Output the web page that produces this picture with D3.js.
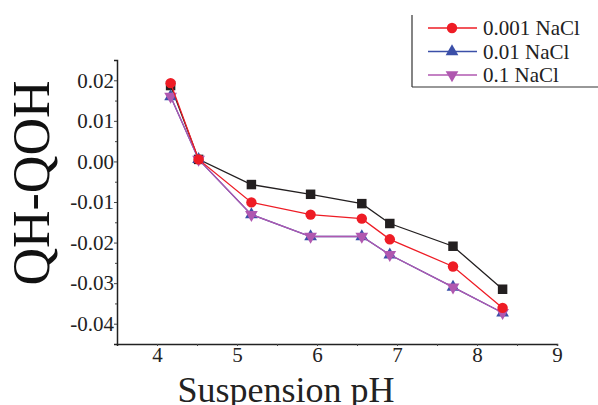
<!DOCTYPE html>
<html><head><meta charset="utf-8">
<script src="https://cdn.jsdelivr.net/npm/d3@7"></script>
<style>body{margin:0;background:#fff;} svg{display:block;} text{font-family:"Liberation Serif","Times New Roman",Times,serif;}</style>
</head><body>
<svg id="c" width="598" height="405"></svg>
<script>
const phValues = [4.17, 4.52, 5.18, 5.92, 6.56, 6.91, 7.70, 8.32];
const seriesBlack = [0.0187, 0.0005, -0.0057, -0.0081, -0.0104, -0.0153, -0.0209, -0.0315];
const seriesRed = [0.0193, 0.0005, -0.0101, -0.0131, -0.0141, -0.0192, -0.0259, -0.0361];
const seriesBlue = [0.0160, 0.0005, -0.0131, -0.0185, -0.0185, -0.0230, -0.0310, -0.0373];
const seriesPurple = [0.0160, 0.0005, -0.0131, -0.0185, -0.0185, -0.0230, -0.0310, -0.0373];
const xTicks = [4, 5, 6, 7, 8, 9];
const yTicks = [0.02, 0.01, 0.00, -0.01, -0.02, -0.03, -0.04];
const yTickLabels = ["0.02", "0.01", "0.00", "-0.01", "-0.02", "-0.03", "-0.04"];
const legendLabels = ["0.001 NaCl", "0.01 NaCl", "0.1 NaCl"];

const svg = d3.select("#c");
const x = d3.scaleLinear().domain([3.5, 9]).range([117, 557]);
const y = d3.scaleLinear().domain([-0.045, 0.025]).range([344, 60]);

// axes
const xAxis = d3.axisBottom(x).tickValues(xTicks).tickFormat(d3.format("d")).tickSize(2).tickPadding(1);
const xMinor = d3.axisBottom(x).tickValues([4.5,5.5,6.5,7.5,8.5]).tickFormat("").tickSize(2);
const gx = svg.append("g").attr("transform", "translate(0,344)").call(xAxis);
svg.append("g").attr("transform", "translate(0,344)").call(xMinor).select(".domain").remove();
gx.selectAll("text").attr("font-family", null).attr("font-size", 21).attr("fill", "#222");

const yAxis = d3.axisLeft(y).tickValues(yTicks).tickFormat((d,i)=>yTickLabels[i]).tickSize(3).tickPadding(0);
const yMinor = d3.axisLeft(y).tickValues([0.015,0.005,-0.005,-0.015,-0.025,-0.035]).tickFormat("").tickSize(2);
const gy = svg.append("g").attr("transform", "translate(117,0)").call(yAxis);
svg.append("g").attr("transform", "translate(117,0)").call(yMinor).select(".domain").remove();
gy.selectAll("text").attr("font-family", null).attr("font-size", 21).attr("fill", "#222");
svg.selectAll("g").attr("font-family", null);
svg.selectAll(".domain").attr("stroke", "#222").attr("stroke-width", 1.5);
svg.selectAll(".tick line").attr("stroke", "#444");

// axis titles
svg.append("text").attr("x", 286).attr("y", 402).attr("text-anchor", "middle")
  .attr("font-size", 36).attr("fill", "#222").text("Suspension pH");
svg.append("text").attr("transform", "translate(49,183) rotate(-90)").attr("text-anchor", "middle")
  .attr("font-size", 52).attr("fill", "#111").text("QH-QOH");

const line = d3.line().x(d => x(d[0])).y(d => y(d[1]));
const series = [
  {vals: seriesBlack, color: "#231f20", sym: d3.symbolSquare, size: 90, rot: 0},
  {vals: seriesBlue, color: "#3b4fa8", sym: d3.symbolTriangle, size: 70, rot: 0},
  {vals: seriesPurple, color: "#b058b0", sym: d3.symbolTriangle, size: 70, rot: 180},
  {vals: seriesRed, color: "#ee1c25", sym: d3.symbolCircle, size: 85, rot: 0}
];
series.forEach(s => {
  const pts = phValues.map((p, i) => [p, s.vals[i]]);
  svg.append("path").datum(pts).attr("d", line).attr("fill", "none").attr("stroke", s.color).attr("stroke-width", 1.3);
  svg.append("g").selectAll("path").data(pts).join("path")
    .attr("d", d3.symbol().type(s.sym).size(s.size))
    .attr("transform", d => `translate(${x(d[0])},${y(d[1])}) rotate(${s.rot})`)
    .attr("fill", s.color);
});

// legend
const lg = svg.append("g");
lg.append("line").attr("x1", 412).attr("x2", 412).attr("y1", 15).attr("y2", 87).attr("stroke", "#333").attr("stroke-width", 1.2);
lg.append("line").attr("x1", 412).attr("x2", 598).attr("y1", 87).attr("y2", 87).attr("stroke", "#333").attr("stroke-width", 1.2);
const legSeries = [series[3], series[1], series[2]];
legSeries.forEach((s, i) => {
  const yy = 28 + i * 23.5;
  lg.append("line").attr("x1", 428).attr("x2", 477).attr("y1", yy).attr("y2", yy).attr("stroke", s.color).attr("stroke-width", 1.3);
  lg.append("path").attr("d", d3.symbol().type(s.sym).size(s.size)).attr("transform", `translate(452,${yy}) rotate(${s.rot})`).attr("fill", s.color);
  lg.append("text").attr("x", 483).attr("y", yy + 7).attr("font-size", 21).attr("fill", "#222").text(legendLabels[i]);
});
</script>
</body></html>
